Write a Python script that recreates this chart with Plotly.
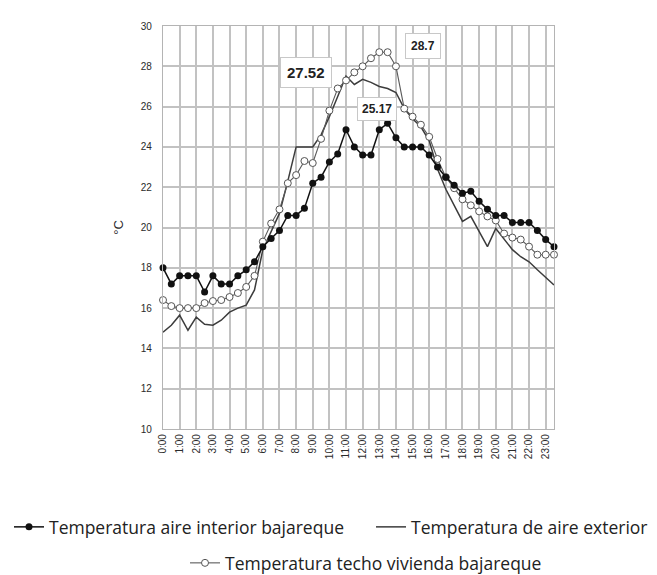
import plotly.graph_objects as go

# Half-hourly time stamps over one day and the hourly tick labels
times = [f"{h}:{m:02d}" for h in range(24) for m in (0, 30)]
hour_labels = [f"{h}:00" for h in range(24)]

# Indoor air temperature, bajareque house (°C)
interior = [18.0, 17.2, 17.6, 17.6, 17.6, 16.8, 17.6, 17.2, 17.2, 17.6,
            17.9, 18.3, 19.05, 19.45, 19.85, 20.6, 20.6, 20.95, 22.2, 22.5,
            23.25, 23.65, 24.85, 24.0, 23.6, 23.6, 24.85, 25.17, 24.45, 24.0,
            24.0, 24.0, 23.6, 23.0, 22.5, 22.1, 21.7, 21.8, 21.3, 20.9,
            20.6, 20.6, 20.25, 20.25, 20.25, 19.85, 19.4, 19.05]

# Outdoor air temperature (°C)
exterior = [14.8, 15.15, 15.65, 14.9, 15.55, 15.2, 15.15, 15.4, 15.8, 16.0,
            16.15, 16.9, 18.9, 19.8, 20.7, 22.3, 24.0, 24.0, 24.0, 24.6,
            25.5, 26.5, 27.52, 27.1, 27.35, 27.2, 27.0, 26.9, 26.7, 25.9,
            25.4, 25.0, 24.3, 22.9, 21.9, 21.1, 20.3, 20.55, 19.8, 19.05,
            19.95, 19.4, 18.9, 18.55, 18.3, 17.9, 17.5, 17.15]

# Roof temperature, bajareque house (°C)
roof = [16.4, 16.1, 16.0, 16.0, 16.0, 16.25, 16.35, 16.4, 16.55, 16.75,
        17.05, 17.6, 19.3, 20.2, 20.9, 22.2, 22.6, 23.3, 23.2, 24.4,
        25.8, 26.9, 27.3, 27.7, 28.0, 28.4, 28.7, 28.7, 28.0, 25.9,
        25.5, 25.1, 24.5, 23.4, 22.5, 21.95, 21.4, 21.1, 20.8, 20.55,
        20.35, 19.7, 19.5, 19.4, 19.05, 18.65, 18.65, 18.65]

names = {
    "interior": "Temperatura aire interior bajareque",
    "exterior": "Temperatura de aire exterior",
    "roof": "Temperatura techo vivienda bajareque",
}

fig = go.Figure()

fig.add_trace(go.Scatter(
    x=times, y=exterior, mode="lines", name=names["exterior"],
    line=dict(color="#3c3c3c", width=1.5),
    legend="legend2", cliponaxis=False,
))
fig.add_trace(go.Scatter(
    x=times, y=roof, mode="lines+markers", name=names["roof"],
    line=dict(color="#5a5a5a", width=1.1),
    marker=dict(symbol="circle", size=7, color="white",
                line=dict(color="#555555", width=1)),
    legend="legend3", cliponaxis=False,
))
fig.add_trace(go.Scatter(
    x=times, y=interior, mode="lines+markers", name=names["interior"],
    line=dict(color="#111111", width=1.5),
    marker=dict(symbol="circle", size=7, color="#111111"),
    legend="legend", cliponaxis=False,
))

# Boxed labels for the daily maximum of each series
def peak(values):
    i = max(range(len(values)), key=lambda k: values[k])
    return times[i], values[i]

box = dict(showarrow=False, bgcolor="white", bordercolor="#c8c8c8",
           borderwidth=1, xref="x", yref="y")
for values, size, pad, dx, dy in [
    (exterior, 15, 6, -40, 3),
    (roof, 12, 5, 44, 6),
    (interior, 12, 4, -11, 14),
]:
    t, v = peak(values)
    fig.add_annotation(x=t, y=v, text=f"<b>{v:g}</b>", xshift=dx, yshift=dy,
                       font=dict(family="Liberation Sans", size=size, color="#222"),
                       borderpad=pad, **box)

grid = "#c2c2c2"
fig.update_xaxes(
    type="category", categoryorder="array", categoryarray=times,
    range=[0, 47], tickmode="array", tickvals=hour_labels, ticktext=hour_labels,
    tickangle=-90, tickfont=dict(family="Liberation Sans", size=10, color="#2a2a2a"),
    showgrid=True, gridcolor=grid, gridwidth=1.7,
    showline=True, linecolor="#b4b4b4", linewidth=1.2, mirror=True,
    ticks="", zeroline=False,
)
fig.update_yaxes(
    range=[10, 30], dtick=2, tick0=10,
    tickfont=dict(family="Liberation Sans", size=10, color="#2a2a2a"),
    showgrid=True, gridcolor=grid, gridwidth=1.7,
    showline=True, linecolor="#b4b4b4", linewidth=1.2, mirror=True,
    ticks="", ticklabelstandoff=8, zeroline=False,
    title=dict(text="°C", font=dict(family="Liberation Sans", size=13, color="#2a2a2a"),
               standoff=14),
)

# One legend box per entry so the entries sit on two rows as laid out
legend_font = dict(family="Open Sans", size=17.5, color="#222")
common = dict(orientation="h", xref="container", yref="container",
              xanchor="left", yanchor="middle", font=legend_font,
              itemwidth=30, bgcolor="rgba(0,0,0,0)")
fig.update_layout(
    width=657, height=575,
    margin=dict(l=163, r=103, t=26, b=146),
    plot_bgcolor="white", paper_bgcolor="white",
    showlegend=True,
    legend=dict(x=0.0137, y=0.0835, **common),
    legend2=dict(x=0.5647, y=0.0835, **common),
    legend3=dict(x=0.2816, y=0.0209, **common),
)

fig.write_html("out.html")
